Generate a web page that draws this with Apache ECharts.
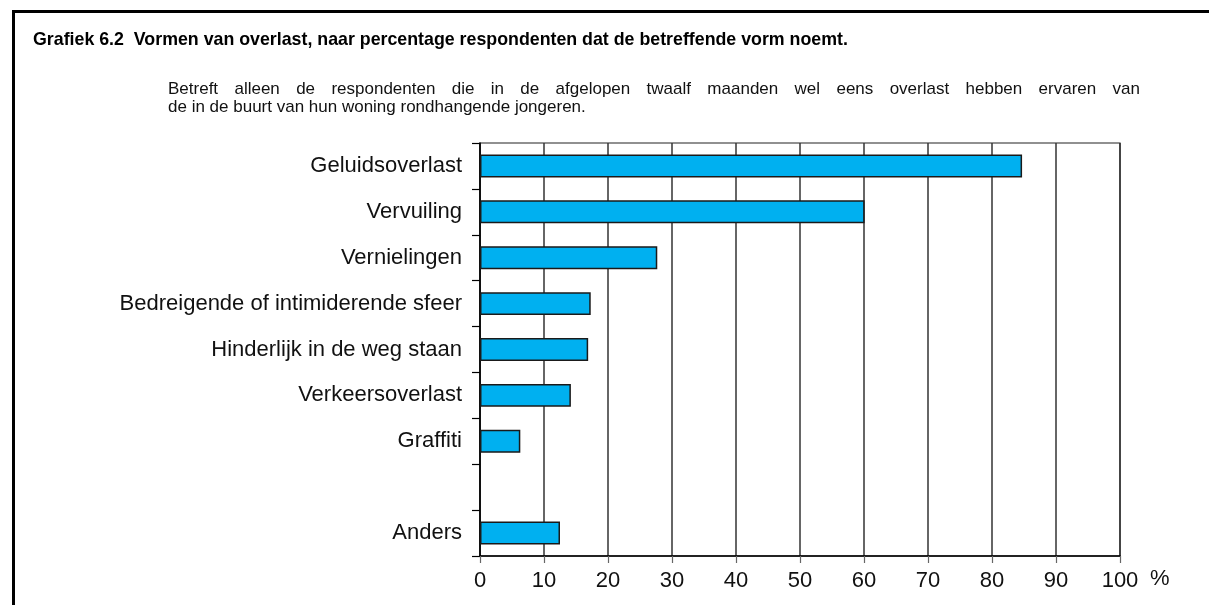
<!DOCTYPE html>
<html>
<head>
<meta charset="utf-8">
<title>Grafiek 6.2</title>
<script src="https://cdn.jsdelivr.net/npm/echarts@6.0.0/dist/echarts.min.js"></script>
<style>
   html, body { margin: 0; padding: 0; background: #fff; }
   #chart { width: 1209px; height: 605px; }
</style>
</head>
<body>
<div id="chart"></div>
<script>
   // categorieen van boven naar beneden, lege regel tussen Graffiti en Anders
   var categories = ['Geluidsoverlast', 'Vervuiling', 'Vernielingen', 'Bedreigende of intimiderende sfeer',
      'Hinderlijk in de weg staan', 'Verkeersoverlast', 'Graffiti', '', 'Anders'];
   var percentages = [84.7, 60.1, 27.7, 17.3, 16.9, 14.2, 6.3, '-', 12.5];
   var axisMin = 0, axisMax = 100, axisStep = 10;
   var titleText = 'Grafiek 6.2  Vormen van overlast, naar percentage respondenten dat de betreffende vorm noemt.';
   var noteLines = [
      'Betreft alleen de respondenten die in de afgelopen twaalf maanden wel eens overlast hebben ervaren van',
      'de in de buurt van hun woning rondhangende jongeren.'
   ];

   var FONT = "'Liberation Sans', Arial, sans-serif";

   // uitgevulde tekstregel: woorden verdelen tussen left en right
   function justifiedLine(text, left, right, y, size){
      var ctx = document.createElement('canvas').getContext('2d');
      ctx.font = size + 'px ' + FONT;
      var words = text.split(' ');
      var total = 0;
      words.forEach(function(w){ total += ctx.measureText(w).width; });
      var gap = (right - left - total) / (words.length - 1);
      var x = left, out = [];
      words.forEach(function(w){
         out.push({
            type: 'text', x: x, y: y, silent: true,
            style: {text: w, font: size + 'px ' + FONT, fill: '#111', textVerticalAlign: 'middle'}
         });
         x += ctx.measureText(w).width + gap;
      });
      return out;
   }

   var graphics = [
      {type: 'rect', silent: true, shape: {x: 13.5, y: 11.5, width: 1300, height: 700},
         style: {fill: null, stroke: '#000', lineWidth: 3}},
      {type: 'text', x: 33, y: 40, silent: true,
         style: {text: titleText, font: 'bold 17.8px ' + FONT, fill: '#000', textVerticalAlign: 'middle'}}
   ];
   graphics = graphics.concat(justifiedLine(noteLines[0], 168, 1140, 89, 17));
   graphics.push({type: 'text', x: 168, y: 107, silent: true,
      style: {text: noteLines[1], font: '17px ' + FONT, fill: '#111', textVerticalAlign: 'middle'}});

   var myChart = echarts.init(document.getElementById('chart'));
   var option = {
      animation: false,
      textStyle: {fontFamily: FONT},
      graphic: graphics,
      grid: {left: 480, right: 89, top: 143, bottom: 49, show: true, borderColor: '#222', borderWidth: 1.2},
      xAxis: {
         type: 'value', min: axisMin, max: axisMax, interval: axisStep,
         name: '%', nameLocation: 'end', nameGap: 30,
         nameTextStyle: {fontSize: 22, color: '#111', verticalAlign: 'top', padding: [12, 0, 0, 0]},
         axisLine: {show: true, lineStyle: {color: '#000', width: 1.5}},
         axisTick: {show: true, length: 7, lineStyle: {color: '#666', width: 1.2}},
         axisLabel: {fontSize: 22, color: '#111', margin: 14},
         splitLine: {show: true, lineStyle: {color: '#333', width: 1.5}}
      },
      yAxis: {
         type: 'category', inverse: true, data: categories,
         axisLine: {show: true, lineStyle: {color: '#000', width: 1.5}},
         axisTick: {show: true, length: 8, lineStyle: {color: '#000', width: 1.2}},
         axisLabel: {fontSize: 22, color: '#111', margin: 18}
      },
      series: [{
         type: 'bar',
         data: percentages,
         barWidth: '50%',
         itemStyle: {color: '#00B0F0', borderColor: '#1a1a1a', borderWidth: 1.5}
      }]
   };
   myChart.setOption(option);
</script>
</body>
</html>
